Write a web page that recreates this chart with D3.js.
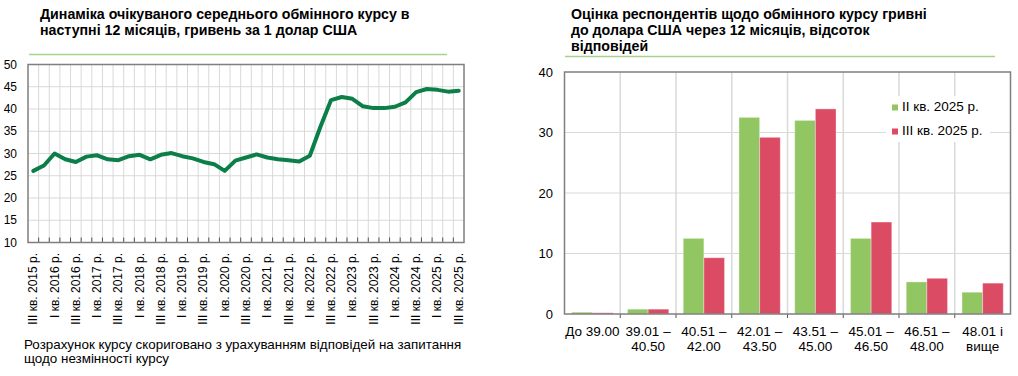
<!DOCTYPE html>
<html>
<head>
<meta charset="utf-8">
<script src="https://cdn.jsdelivr.net/npm/d3@7"></script>
<style>
  body { margin: 0; background: #fff; }
  svg { font-family: "Liberation Sans", Arial, sans-serif; }
</style>
</head>
<body>
<div id="chart"></div>
<script>
// ліва діаграма: очікуваний курс, квартали III 2015 – III 2025
const quarters = [
  "III кв. 2015 р.", "IV кв. 2015 р.",
  "I кв. 2016 р.", "II кв. 2016 р.", "III кв. 2016 р.", "IV кв. 2016 р.",
  "I кв. 2017 р.", "II кв. 2017 р.", "III кв. 2017 р.", "IV кв. 2017 р.",
  "I кв. 2018 р.", "II кв. 2018 р.", "III кв. 2018 р.", "IV кв. 2018 р.",
  "I кв. 2019 р.", "II кв. 2019 р.", "III кв. 2019 р.", "IV кв. 2019 р.",
  "I кв. 2020 р.", "II кв. 2020 р.", "III кв. 2020 р.", "IV кв. 2020 р.",
  "I кв. 2021 р.", "II кв. 2021 р.", "III кв. 2021 р.", "IV кв. 2021 р.",
  "I кв. 2022 р.", "II кв. 2022 р.", "III кв. 2022 р.", "IV кв. 2022 р.",
  "I кв. 2023 р.", "II кв. 2023 р.", "III кв. 2023 р.", "IV кв. 2023 р.",
  "I кв. 2024 р.", "II кв. 2024 р.", "III кв. 2024 р.", "IV кв. 2024 р.",
  "I кв. 2025 р.", "II кв. 2025 р.", "III кв. 2025 р."
];
const expectedRate = [
  26.1, 27.3, 30.0, 28.7, 28.1, 29.3, 29.6, 28.7, 28.5, 29.4,
  29.7, 28.7, 29.7, 30.1, 29.4, 28.9, 28.1, 27.6, 26.1, 28.4,
  29.1, 29.8, 29.1, 28.7, 28.5, 28.2, 29.5, 36.0, 42.0, 42.7,
  42.3, 40.6, 40.2, 40.2, 40.5, 41.5, 43.8, 44.5, 44.3, 43.9,
  44.1
];
const leftTicks = [10, 15, 20, 25, 30, 35, 40, 45, 50];

// права діаграма: розподіл відповідей
const ranges = [
  ["До 39.00"], ["39.01 –", "40.50"], ["40.51 –", "42.00"], ["42.01 –", "43.50"],
  ["43.51 –", "45.00"], ["45.01 –", "46.50"], ["46.51 –", "48.00"], ["48.01 і", "вище"]
];
const seriesNames = ["II кв. 2025 р.", "III кв. 2025 р."];
const shareQ2 = [0.3, 0.8, 12.5, 32.5, 32.0, 12.5, 5.3, 3.6];
const shareQ3 = [0.2, 0.8, 9.3, 29.2, 33.9, 15.2, 5.9, 5.1];
const rightTicks = [0, 10, 20, 30, 40];

const colors = { line: "#0b7f47", green: "#92c663", red: "#db4b64", grid: "#d9d9d9", frame: "#7f7f7f", rule: "#a9d18e" };

const svg = d3.select("#chart").append("svg")
  .attr("width", 1018).attr("height", 376);

function titleLines(x, y0, lines) {
  const t = svg.append("text").attr("x", x).attr("y", y0)
    .style("font-size", "14.2px").style("font-weight", "bold").attr("fill", "#000");
  lines.forEach((l, i) => t.append("tspan").attr("x", x).attr("y", y0 + i * 16).text(l));
}

// ---------- ЛІВА ----------
titleLines(40, 18.5, ["Динаміка очікуваного середнього обмінного курсу в", "наступні 12 місяців, гривень за 1 долар США"]);
svg.append("line").attr("x1", 29).attr("x2", 447).attr("y1", 54.5).attr("y2", 54.5)
  .attr("stroke", colors.rule).attr("stroke-width", 1.5);

const L = { left: 28, right: 464, top: 64.5, bottom: 242.5 };
const xL = d3.scaleBand().domain(quarters).range([L.left, L.right]).padding(0);
const yL = d3.scaleLinear().domain([10, 50]).range([L.bottom, L.top]);

const gL = svg.append("g");
gL.selectAll(".hgrid").data(leftTicks.slice(1, -1)).join("line")
  .attr("x1", L.left).attr("x2", L.right)
  .attr("y1", d => yL(d)).attr("y2", d => yL(d))
  .attr("stroke", colors.grid).attr("stroke-width", 1);
gL.selectAll(".vgrid").data(quarters.slice(1)).join("line")
  .attr("x1", d => xL(d)).attr("x2", d => xL(d))
  .attr("y1", L.top).attr("y2", L.bottom)
  .attr("stroke", colors.grid).attr("stroke-width", 1);
// дрібні поділки внизу
gL.selectAll(".tick").data(quarters.slice(1)).join("line")
  .attr("x1", d => xL(d)).attr("x2", d => xL(d))
  .attr("y1", L.bottom - 5).attr("y2", L.bottom)
  .attr("stroke", "#555").attr("stroke-width", 1);
gL.append("rect").attr("x", L.left).attr("y", L.top)
  .attr("width", L.right - L.left).attr("height", L.bottom - L.top)
  .attr("fill", "none").attr("stroke", colors.frame).attr("stroke-width", 1.5);

gL.selectAll(".ylab").data(leftTicks).join("text")
  .attr("x", 17).attr("y", d => yL(d)).attr("dy", "0.35em")
  .attr("text-anchor", "end").style("font-size", "12px").text(d => d);

gL.selectAll(".xlab").data(quarters.filter((d, i) => i % 2 === 0)).join("text")
  .attr("transform", d => `translate(${xL(d) + xL.bandwidth() / 2 + 4},253) rotate(-90)`)
  .attr("text-anchor", "end").style("font-size", "12px").text(d => d);

const line = d3.line()
  .x((d, i) => xL(quarters[i]) + xL.bandwidth() / 2)
  .y(d => yL(d));
gL.append("path").datum(expectedRate).attr("d", line)
  .attr("fill", "none").attr("stroke", colors.line).attr("stroke-width", 4)
  .attr("stroke-linejoin", "round").attr("stroke-linecap", "round");

const note = svg.append("text").style("font-size", "13.4px");
note.append("tspan").attr("x", 24).attr("y", 349).text("Розрахунок курсу скориговано з урахуванням відповідей на запитання");
note.append("tspan").attr("x", 24).attr("y", 362.5).text("щодо незмінності курсу");

// ---------- ПРАВА ----------
titleLines(571, 19, ["Оцінка респондентів щодо обмінного курсу гривні", "до долара США через 12 місяців, відсоток", "відповідей"]);
svg.append("line").attr("x1", 565).attr("x2", 995).attr("y1", 56.5).attr("y2", 56.5)
  .attr("stroke", colors.rule).attr("stroke-width", 1.5);

const R = { left: 564.5, right: 1010.5, top: 72, bottom: 314 };
const keys = ranges.map(d => d.join(" "));
const xR = d3.scaleBand().domain(keys).range([R.left, R.right]).padding(0);
const xS = d3.scaleBand().domain(seriesNames).range([0, xR.bandwidth()]).paddingInner(0).paddingOuter(0.35);
const yR = d3.scaleLinear().domain([0, 40]).range([R.bottom, R.top]);

const gR = svg.append("g");
gR.selectAll(".hgrid").data(rightTicks.slice(1, -1)).join("line")
  .attr("x1", R.left).attr("x2", R.right)
  .attr("y1", d => yR(d)).attr("y2", d => yR(d))
  .attr("stroke", colors.grid).attr("stroke-width", 1);
gR.selectAll(".vgrid").data(keys.slice(1)).join("line")
  .attr("x1", d => xR(d)).attr("x2", d => xR(d))
  .attr("y1", R.top).attr("y2", R.bottom)
  .attr("stroke", colors.grid).attr("stroke-width", 1.5);

const rows = keys.map((k, i) => ({ key: k, vals: [shareQ2[i], shareQ3[i]] }));
const barColors = [colors.green, colors.red];
const grp = gR.selectAll(".grp").data(rows).join("g")
  .attr("transform", d => `translate(${xR(d.key)},0)`);
grp.selectAll("rect").data(d => d.vals.map((v, j) => ({ v, s: seriesNames[j], j }))).join("rect")
  .attr("x", d => xS(d.s)).attr("width", xS.bandwidth())
  .attr("y", d => yR(d.v)).attr("height", d => yR(0) - yR(d.v))
  .attr("fill", d => barColors[d.j])
  .attr("stroke", "rgba(255,255,255,0.35)").attr("stroke-width", 1);

gR.selectAll(".tick").data(keys.slice(1)).join("line")
  .attr("x1", d => xR(d)).attr("x2", d => xR(d))
  .attr("y1", R.bottom).attr("y2", R.bottom + 4)
  .attr("stroke", "#555").attr("stroke-width", 1);
gR.append("rect").attr("x", R.left).attr("y", R.top)
  .attr("width", R.right - R.left).attr("height", R.bottom - R.top)
  .attr("fill", "none").attr("stroke", colors.frame).attr("stroke-width", 1.5);

gR.selectAll(".ylab").data(rightTicks).join("text")
  .attr("x", 553).attr("y", d => yR(d)).attr("dy", "0.35em")
  .attr("text-anchor", "end").style("font-size", "13px").text(d => d);

const xl = gR.selectAll(".xlab").data(ranges).join("text")
  .attr("text-anchor", "middle").style("font-size", "13.5px");
xl.selectAll("tspan").data((d, i) => d.map(t => ({ t, k: keys[i] }))).join("tspan")
  .attr("x", d => xR(d.k) + xR.bandwidth() / 2)
  .attr("y", (d, i) => 336 + i * 14.5)
  .text(d => d.t);

// легенда
const leg = gR.append("g");
leg.append("rect").attr("x", 886).attr("y", 96).attr("width", 104).attr("height", 46).attr("fill", "#fff");
seriesNames.forEach((s, i) => {
  leg.append("rect").attr("x", 892).attr("y", 104.5 + i * 24).attr("width", 6).attr("height", 6).attr("fill", barColors[i]);
  leg.append("text").attr("x", 902).attr("y", 111 + i * 24).style("font-size", "13.5px").text(s);
});
</script>
</body>
</html>
